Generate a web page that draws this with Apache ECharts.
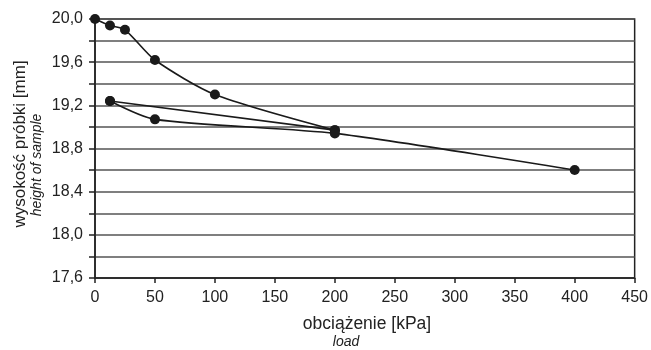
<!DOCTYPE html>
<html>
<head>
<meta charset="utf-8">
<script src="https://cdn.jsdelivr.net/npm/echarts@6/dist/echarts.min.js"></script>
<style>
  html, body { margin: 0; padding: 0; background: #fff; }
  #chart { width: 651px; height: 350px; }
</style>
</head>
<body>
<div id="chart"></div>
<script>
// load steps [kPa] and sample height [mm]
var loadingX = [0, 12.5, 25, 50, 100, 200];
var loadingY = [20.0, 19.94, 19.90, 19.62, 19.30, 18.97];
var unloadingX = [200, 12.5];
var unloadingY = [18.97, 19.24];
var reloadingX = [12.5, 50, 200, 400];
var reloadingY = [19.24, 19.07, 18.94, 18.60];

var xTicks = { min: 0, max: 450, step: 50 };
var yTicks = { min: 17.6, max: 20.0, step: 0.2 };

function pairs(xs, ys) {
    return xs.map(function (x, i) { return [x, ys[i]]; });
}

var font = 'Liberation Sans, Arial, sans-serif';

function makeSeries(data, smooth) {
    return {
        type: 'line',
        data: data,
        smooth: smooth,
        symbol: 'circle',
        symbolSize: 10,
        itemStyle: { color: '#1a1a1a' },
        lineStyle: { color: '#1a1a1a', width: 1.6 },
        z: 5
    };
}

var chart = echarts.init(document.getElementById('chart'));
chart.setOption({
    animation: false,
    backgroundColor: '#fff',
    grid: {
        left: 95, right: 14, top: 19, bottom: 72,
        show: true, borderColor: '#222', borderWidth: 1.5
    },
    xAxis: {
        type: 'value',
        min: xTicks.min, max: xTicks.max, interval: xTicks.step,
        axisLine: { lineStyle: { color: '#222', width: 1.5 } },
        axisTick: { show: true, length: 5, lineStyle: { color: '#222', width: 1.5 } },
        axisLabel: { color: '#222', fontFamily: font, fontSize: 16, margin: 12 },
        splitLine: { show: false }
    },
    yAxis: {
        type: 'value',
        min: yTicks.min, max: yTicks.max, interval: yTicks.step,
        axisLine: { show: true, lineStyle: { color: '#222', width: 1.5 } },
        axisTick: { show: true, length: 6, lineStyle: { color: '#222', width: 1.5 } },
        axisLabel: {
            color: '#222', fontFamily: font, fontSize: 16, margin: 12,
            formatter: function (v) {
                var t = Math.round(v * 10);
                if (t % 4 !== 0) return '';
                return (t / 10).toFixed(1).replace('.', ',');
            }
        },
        splitLine: { show: true, lineStyle: { color: '#555', width: 1.5 } }
    },
    graphic: [
        {
            type: 'text', x: 20, y: 144, rotation: Math.PI / 2,
            style: {
                text: 'wysokość próbki [mm]', fill: '#222',
                font: '17px ' + font, align: 'center', verticalAlign: 'middle'
            }
        },
        {
            type: 'text', x: 37, y: 165, rotation: Math.PI / 2,
            style: {
                text: 'height of sample', fill: '#222',
                font: 'italic 14px ' + font, align: 'center', verticalAlign: 'middle'
            }
        },
        {
            type: 'text', x: 367, y: 324,
            style: {
                text: 'obciążenie [kPa]', fill: '#222',
                font: '17.5px ' + font, align: 'center', verticalAlign: 'middle'
            }
        },
        {
            type: 'text', x: 346, y: 342,
            style: {
                text: 'load', fill: '#222',
                font: 'italic 14px ' + font, align: 'center', verticalAlign: 'middle'
            }
        }
    ],
    series: [
        makeSeries(pairs(loadingX, loadingY), 0.25),
        makeSeries(pairs(unloadingX, unloadingY), false),
        makeSeries(pairs(reloadingX, reloadingY), 0.25)
    ]
});
</script>
</body>
</html>
